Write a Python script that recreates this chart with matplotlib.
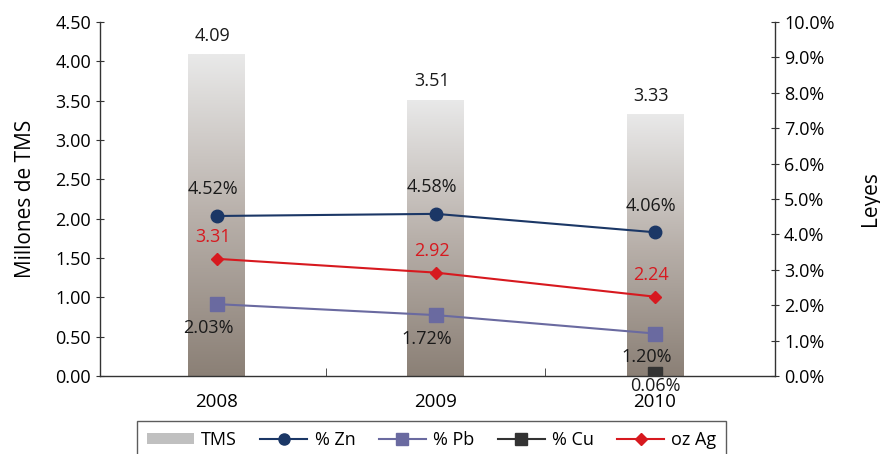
import numpy as np
import matplotlib
matplotlib.use("Agg")
import matplotlib.pyplot as plt
from matplotlib.lines import Line2D
from matplotlib.patches import Patch
from matplotlib.ticker import FuncFormatter, FixedLocator

plt.rcParams['font.family'] = ['Open Sans', 'DejaVu Sans']

years = ["2008", "2009", "2010"]
tms = [4.09, 3.51, 3.33]          # millones de TMS
zn = [4.52, 4.58, 4.06]           # % Zn
pb = [2.03, 1.72, 1.20]           # % Pb
cu = [np.nan, np.nan, 0.06]       # % Cu
ag = [3.31, 2.92, 2.24]           # oz Ag

zn_c = "#1b3766"
pb_c = "#6a6aa0"
cu_c = "#333333"
ag_c = "#d7191f"
fs = 13

fig = plt.figure(figsize=(8.8, 4.54), dpi=100)
ax = fig.add_axes([100/880, 1 - 376/454, 675/880, 354/454])
ax2 = ax.twinx()

x = np.arange(len(years))

# gradient-filled bars
bw = 0.26
grad = np.linspace(0, 1, 256).reshape(-1, 1)
cmap = matplotlib.colors.LinearSegmentedColormap.from_list(
    "tms", ["#8b8076", "#b8b0aa", "#e9e9e9"])
for xi, v in zip(x, tms):
    rect = ax.bar(xi, v, width=bw, color="none", zorder=1)[0]
    im = ax.imshow(grad, cmap=cmap, aspect="auto", origin="lower",
                   extent=[xi - bw/2, xi + bw/2, 0, v], zorder=1)
    im.set_clip_path(rect)
    ax.text(xi - 0.02, v + 0.12, f"{v:.2f}", ha="center", va="bottom", fontsize=fs, color="#1a1a1a")
ax.set_xlim(-0.534, 2.548)
ax.set_ylim(0, 4.5)
ax2.set_ylim(0, 10)

ax2.plot(x, zn, color=zn_c, marker="o", ms=9, lw=1.5, zorder=3)
ax2.plot(x, pb, color=pb_c, marker="s", ms=10, lw=1.5, zorder=3)
ax2.plot(x, cu, color=cu_c, marker="s", ms=10, lw=1.5, zorder=3)
ax2.plot(x, ag, color=ag_c, marker="D", ms=6, lw=1.5, zorder=3)

for xi, v in zip(x, zn):
    ax2.text(xi - 0.02, v + 0.5, f"{v:.2f}%", ha="center", va="bottom", fontsize=fs, color="#1a1a1a")
for xi, v in zip(x, ag):
    ax2.text(xi - 0.02, v + 0.35, f"{v:.2f}", ha="center", va="bottom", fontsize=fs, color=ag_c)
for xi, v in zip(x, pb):
    ax2.text(xi - 0.04, v - 0.42, f"{v:.2f}%", ha="center", va="top", fontsize=fs, color="#1a1a1a")
for xi, v in zip(x, cu):
    if not np.isnan(v):
        ax2.text(xi, v - 0.1, f"{v:.2f}%", ha="center", va="top", fontsize=fs, color="#1a1a1a")

# axes styling
ax.set_xticks(x)
ax.set_xticklabels(years, fontsize=fs + 0.5)
ax.xaxis.set_minor_locator(FixedLocator([0.5, 1.5]))
ax.tick_params(axis="x", which="major", length=0, pad=12)
ax.tick_params(axis="x", which="minor", length=6, direction="in", color="#333333")
ax.set_yticks(np.arange(0, 4.51, 0.5))
ax.yaxis.set_major_formatter(FuncFormatter(lambda v, p: f"{v:.2f}"))
ax.tick_params(axis="y", length=6, direction="inout", labelsize=fs, color="#333333")
ax2.set_yticks(np.arange(0, 10.01, 1))
ax2.yaxis.set_major_formatter(FuncFormatter(lambda v, p: f"{v:.1f}%"))
ax2.tick_params(axis="y", length=6, direction="inout", labelsize=fs, color="#333333")

for a in (ax, ax2):
    a.spines["top"].set_visible(False)
    for s in ("left", "right", "bottom"):
        a.spines[s].set_color("#333333")
        a.spines[s].set_linewidth(1.0)
ax.spines["right"].set_visible(False)
ax2.spines["left"].set_visible(False)
ax2.spines["bottom"].set_visible(False)

ax.set_ylabel("Millones de TMS", fontsize=15, labelpad=14)
ax2.set_ylabel("Leyes", fontsize=15, labelpad=18)

handles = [
    Patch(facecolor="#c0c0c0", edgecolor="none"),
    Line2D([], [], color=zn_c, marker="o", ms=8, lw=1.5),
    Line2D([], [], color=pb_c, marker="s", ms=8, lw=1.5),
    Line2D([], [], color=cu_c, marker="s", ms=8, lw=1.5),
    Line2D([], [], color=ag_c, marker="D", ms=6, lw=1.5),
]
labels = ["TMS", "% Zn", "% Pb", "% Cu", "oz Ag"]
leg = fig.legend(handles, labels, ncol=5, loc="upper left",
                 bbox_to_anchor=(137/880, 1 - 421/454), borderaxespad=0,
                 fontsize=fs, frameon=True, fancybox=False, edgecolor="#333333",
                 handlelength=2.6, handleheight=0.6, columnspacing=1.3,
                 borderpad=0.55, handletextpad=0.4)
leg.get_frame().set_linewidth(1.0)

fig.savefig("out.png", dpi=100)
